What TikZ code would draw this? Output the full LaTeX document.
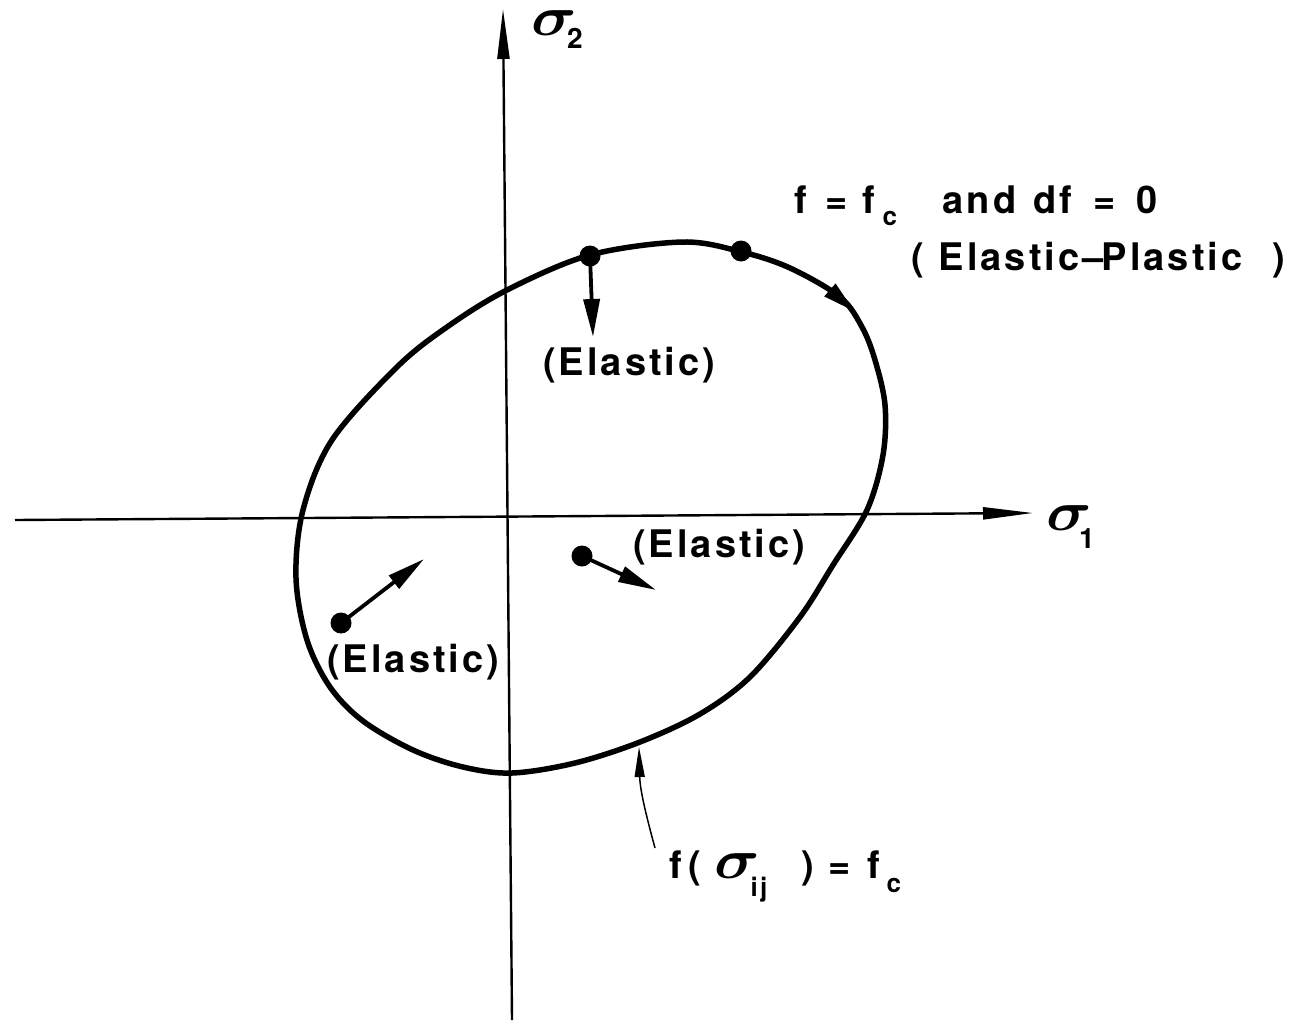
\documentclass[tikz,border=0pt]{standalone}
\usepackage{fontspec}
\usepackage{bm}
\setmainfont{TeX Gyre Heros}
\newfontfamily\lab[LetterSpace=8]{TeX Gyre Heros}
\usetikzlibrary{arrows.meta}
% place a piece of a label at a given offset from the label's start
\newcommand\pc[2]{\rlap{\hspace{#1}#2}}
\newcommand\sbs[2][16pt]{\raisebox{-#1}{\fontsize{26}{26}\selectfont #2}}
\newcommand\bigsig{{\fontsize{10}{12}\selectfont\scalebox{6.3}[5.6]{$\bm{\sigma}$}}}
\tikzset{
  lbl/.style={inner sep=0pt, anchor=base west, font=\lab\bfseries\fontsize{38}{40}\selectfont},
  sig/.style={inner sep=0pt, anchor=base west},
  idx/.style={inner sep=0pt, anchor=base west, font=\bfseries\fontsize{28}{28}\selectfont},
  axis/.style={line width=2.4pt, -{Triangle[length=50pt,width=12pt]}},
  vec/.style={line width=3.8pt, -{Triangle[length=38pt,width=16pt]}},
  dot/.style={circle, fill=black, inner sep=0pt, minimum size=21pt},
  surf/.style={line width=5.5pt, line join=round},
  leader/.style={line width=1.5pt, -{Triangle[length=30pt,width=10pt]}}
}
\begin{document}
\begin{tikzpicture}[x=1pt,y=-1pt]
\useasboundingbox[fill=white] (0,0) rectangle (1292,1023);
% axes
\coordinate (xl) at (15,520);
\coordinate (xr) at (1033,513);
\coordinate (yb) at (512,1020);
\coordinate (yt) at (503,9);
\draw[axis] (xl) -- (xr);
\draw[axis] (yb) -- (yt);
\node[sig] (s2) at (531,35) {\bigsig};
\node[idx] (s2i) at (567,48) {2};
\node[sig] (s1) at (1046,530) {\bigsig};
\node[idx] (s1i) at (1079,548) {1};
% yield surface
\draw[surf] plot[smooth cycle, tension=0.55] coordinates {
 (590,255) (683,242) (742,252) (790,268) (840,297) (862,327) (875,360) (885,405)
 (883,455) (867,510) (833,565) (800,617) (750,677) (700,714) (640,742)
 (575,763) (512,773) (463,767) (413,750) (363,721) (330,687) (307,640)
 (296,578) (303,510) (332,440) (397,367) (447,327) (507,290)};
\coordinate (ca1) at (822,283);
\coordinate (ca2) at (854,311);
\draw[line width=1pt, -{Triangle[length=32pt,width=17pt]}] (ca1) -- (ca2);
% points and increments
\node[dot] (p1) at (590,256) {};
\node[dot] (p2) at (741,251) {};
\node[dot] (p3) at (582,556) {};
\node[dot] (p4) at (341,623) {};
\coordinate (t1) at (593,337);
\coordinate (t3) at (656,590);
\coordinate (t4) at (424,559);
\draw[vec] (p1.center) -- (t1);
\draw[vec] (p3.center) -- (t3);
\draw[vec] (p4.center) -- (t4);
% labels
\node[lbl] (e1) at (543,375) {(Elastic)};
\node[lbl] (e2) at (633,557) {(Elastic)};
\node[lbl] (e3) at (327,672) {(Elastic)};
\node[lbl] (cond) at (794,213) {\pc{0pt}{f}\pc{31pt}{=}\pc{68pt}{f}\pc{88pt}{\sbs[12pt]{c}}\pc{148pt}{and}\pc{239pt}{df}\pc{299pt}{=}\pc{342pt}{0}\hspace{366pt}};
\node[lbl] (ep) at (911,270) {\pc{0pt}{(}\pc{27pt}{Elastic}\pc{171pt}{\textendash}\pc{190pt}{Plastic}\pc{361pt}{)}\hspace{372pt}};
\node[lbl] (fy) at (669,878) {\pc{0pt}{f}\pc{19pt}{(}\pc{45pt}{\bigsig}\pc{81pt}{\sbs[18pt]{ij}}\pc{132pt}{)}\pc{159pt}{=}\pc{198pt}{f}\pc{217pt}{\sbs[14pt]{c}}\hspace{234pt}};
% leader to surface
\coordinate (ls) at (655,848);
\coordinate (lt) at (639,747);
\draw[leader] (ls) .. controls (646,815) and (640,790) .. (lt);
\end{tikzpicture}
\end{document}
